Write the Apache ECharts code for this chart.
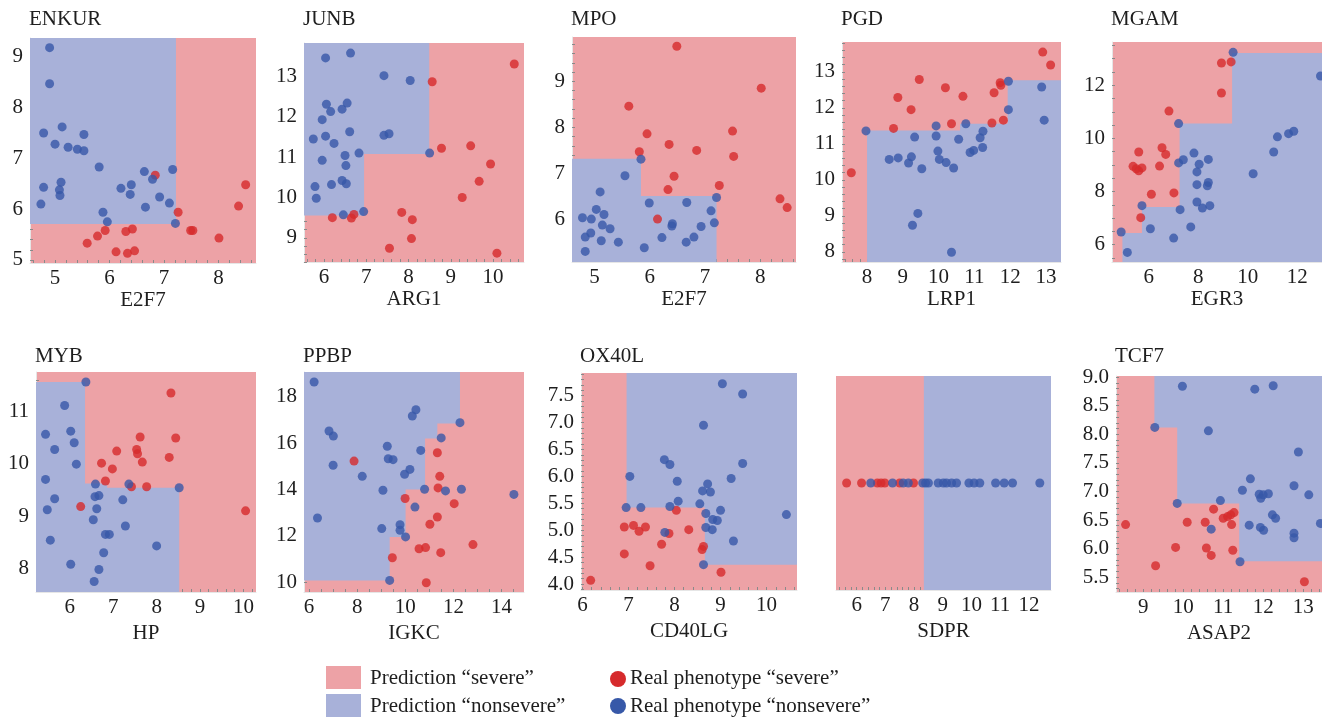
<!DOCTYPE html>
<html><head><meta charset="utf-8">
<script src="https://cdn.jsdelivr.net/npm/echarts@6/dist/echarts.min.js"></script>
<style>html,body{margin:0;padding:0;background:#fff}#c{width:1322px;height:717px}</style>
</head><body><div id="c"></div>
<script>
// ---------- DATA ----------
// ENKUR vs E2F7
const enkurXTicks = [5, 6, 7, 8];
const enkurYTicks = [5, 6, 7, 8, 9];
const enkurSevere = [[6.84,6.67],[7.26,5.94],[5.59,5.33],[5.78,5.47],[5.92,5.58],[6.12,5.16],[6.30,5.56],[6.42,5.61],[6.33,5.13],[6.46,5.18],[7.49,5.58],[7.53,5.58],[8.01,5.43],[8.37,6.06],[8.50,6.48]];
const enkurNonsevere = [[4.90,9.18],[4.90,8.47],[4.79,7.50],[5.13,7.62],[5.00,7.28],[5.24,7.22],[5.41,7.18],[5.53,7.15],[5.53,7.47],[5.81,6.83],[4.79,6.43],[5.11,6.53],[5.08,6.38],[5.09,6.27],[4.74,6.10],[5.88,5.94],[5.96,5.75],[6.21,6.41],[6.40,6.48],[6.38,6.29],[6.64,6.74],[6.79,6.59],[6.66,6.04],[6.92,6.24],[7.10,6.12],[7.16,6.78],[7.21,5.72]];
const enkurNonsevereRegion = [['lo',5.71],[7.22,5.71],[7.22,'hi'],['lo','hi']];

// JUNB vs ARG1
const junbXTicks = [6, 7, 8, 9, 10];
const junbYTicks = [9, 10, 11, 12, 13];
const junbSevere = [[6.20,9.50],[6.65,9.49],[6.71,9.58],[8.56,12.87],[8.78,11.22],[9.47,11.28],[9.94,10.83],[9.67,10.40],[9.27,10.00],[7.84,9.63],[8.09,9.45],[8.07,8.98],[7.55,8.74],[10.09,8.62],[10.50,13.31]];
const junbNonsevere = [[6.04,13.46],[6.63,13.58],[7.42,13.02],[8.04,12.90],[6.06,12.31],[6.16,12.13],[6.43,12.19],[6.55,12.34],[5.96,11.93],[5.75,11.45],[6.04,11.52],[6.24,11.34],[6.61,11.63],[7.42,11.54],[7.54,11.58],[6.83,11.10],[5.96,10.92],[6.50,11.04],[6.52,10.79],[6.43,10.42],[6.53,10.34],[6.18,10.32],[5.79,10.27],[5.82,9.98],[6.46,9.57],[6.94,9.65],[8.50,11.10]];
const junbNonsevereRegion = [['lo',9.55],[6.95,9.55],[6.95,11.08],[8.49,11.08],[8.49,'hi'],['lo','hi']];

// MPO vs E2F7
const mpoXTicks = [5, 6, 7, 8];
const mpoYTicks = [6, 7, 8, 9];
const mpoSevere = [[6.49,9.76],[5.62,8.46],[5.95,7.86],[5.81,7.47],[6.35,7.63],[6.85,7.50],[7.50,7.92],[7.52,7.37],[8.02,8.85],[6.44,6.94],[6.33,6.65],[7.26,6.74],[6.14,6.01],[8.36,6.45],[8.49,6.26]];
const mpoNonsevere = [[5.84,7.31],[5.55,6.95],[5.10,6.60],[5.03,6.22],[5.17,6.11],[4.78,6.04],[4.94,6.01],[5.14,5.88],[5.28,5.80],[4.93,5.71],[4.83,5.62],[5.12,5.54],[5.43,5.51],[4.83,5.31],[5.90,5.39],[5.99,6.36],[6.22,5.61],[6.40,5.86],[6.41,5.91],[6.67,6.37],[6.66,5.51],[6.80,5.62],[6.93,5.85],[7.11,6.19],[7.17,5.93],[7.21,6.48]];
const mpoNonsevereRegion = [['lo','lo'],['lo',7.32],[5.84,7.32],[5.84,6.51],[7.21,6.51],[7.21,'lo']];

// PGD vs LRP1
const pgdXTicks = [8, 9, 10, 11, 12, 13];
const pgdYTicks = [8, 9, 10, 11, 12, 13];
const pgdSevere = [[7.56,10.20],[8.74,11.43],[8.86,12.29],[9.23,11.95],[9.46,12.79],[10.19,12.56],[10.36,11.56],[10.68,12.32],[11.49,11.58],[11.55,12.42],[11.72,12.70],[11.74,12.63],[11.81,11.66],[12.91,13.55],[13.13,13.19]];
const pgdNonsevere = [[7.97,11.36],[8.62,10.57],[8.87,10.61],[9.24,10.64],[9.16,10.47],[9.33,11.19],[9.53,10.31],[9.27,8.74],[9.42,9.07],[9.93,11.50],[9.93,11.22],[9.98,10.80],[10.02,10.57],[10.21,10.48],[10.42,10.33],[10.36,7.99],[10.56,11.13],[10.76,11.56],[10.88,10.76],[10.98,10.82],[11.16,11.17],[11.24,11.35],[11.23,10.90],[11.95,12.74],[11.95,11.95],[12.88,12.58],[12.95,11.66]];
const pgdNonsevereRegion = [[8.0,'lo'],[8.0,11.37],[10.6,11.37],[10.6,11.56],[11.93,11.56],[11.93,12.77],['hi',12.77],['hi','lo']];

// MGAM vs EGR3
const mgamXTicks = [6, 8, 10, 12];
const mgamYTicks = [6, 8, 10, 12];
const mgamSevere = [[6.82,11.03],[8.94,12.84],[9.33,12.88],[8.94,11.71],[5.60,9.49],[5.37,8.95],[5.50,8.86],[5.60,8.78],[5.73,8.89],[6.54,9.65],[6.69,9.40],[6.44,8.96],[6.11,7.90],[7.02,7.95],[5.68,7.02]];
const mgamNonsevere = [[7.21,10.56],[9.41,13.24],[12.94,12.35],[4.89,6.48],[5.14,5.71],[5.73,7.47],[6.07,6.60],[7.01,6.25],[7.27,7.32],[7.70,6.67],[7.21,9.08],[7.40,9.20],[7.83,9.45],[8.04,9.03],[7.95,8.74],[7.95,8.26],[7.95,7.61],[8.17,7.38],[8.47,7.47],[8.41,9.21],[8.41,8.34],[8.37,8.22],[10.22,8.67],[11.05,9.49],[11.20,10.06],[11.65,10.18],[11.86,10.27]];
const mgamNonsevereRegion = [[4.94,'lo'],[4.94,6.44],[5.73,6.44],[5.73,7.42],[7.25,7.42],[7.25,10.56],[9.37,10.56],[9.37,13.22],['hi',13.22],['hi','lo']];

// MYB vs HP
const mybXTicks = [6, 7, 8, 9, 10];
const mybYTicks = [8, 9, 10, 11];
const mybSevere = [[6.25,9.18],[6.73,10.01],[6.98,9.90],[6.82,9.67],[7.08,10.24],[7.42,9.56],[7.54,10.27],[7.56,10.19],[7.67,10.03],[7.62,10.51],[7.77,9.56],[8.29,10.12],[8.44,10.49],[8.33,11.35],[10.05,9.10]];
const mybNonsevere = [[6.37,11.56],[5.88,11.11],[5.44,10.56],[6.02,10.62],[6.10,10.40],[5.65,10.27],[6.15,9.99],[5.44,9.70],[5.65,9.33],[5.48,9.12],[5.55,8.54],[6.02,8.08],[6.59,9.61],[6.58,9.37],[6.67,9.39],[6.62,9.14],[6.54,8.93],[6.82,8.65],[6.91,8.65],[6.78,8.30],[6.67,7.98],[6.56,7.75],[7.22,9.31],[7.28,8.81],[7.36,9.61],[8.00,8.43],[8.52,9.54]];
const mybNonsevereRegion = [['lo','lo'],['lo',11.56],[6.35,11.56],[6.35,9.62],[6.86,9.62],[6.86,9.54],[8.52,9.54],[8.52,'lo']];

// PPBP vs IGKC
const ppbpXTicks = [6, 8, 10, 12, 14];
const ppbpYTicks = [10, 12, 14, 16, 18];
const ppbpSevere = [[7.87,15.23],[11.33,15.59],[11.43,14.57],[11.36,14.07],[9.99,13.61],[12.03,13.39],[11.33,12.81],[11.02,12.50],[12.81,11.62],[11.47,11.27],[10.57,11.44],[10.84,11.49],[9.46,11.05],[10.87,9.97]];
const ppbpNonsevere = [[6.21,18.65],[6.83,16.53],[7.01,16.31],[7.00,15.05],[6.35,12.77],[8.21,14.57],[9.25,15.87],[9.29,15.33],[9.49,15.29],[9.07,13.97],[9.02,12.31],[9.35,10.07],[10.29,17.18],[10.44,17.45],[9.97,14.66],[10.19,14.87],[10.64,15.69],[10.40,13.24],[10.80,14.01],[9.78,12.48],[9.78,12.24],[10.01,11.95],[11.49,16.23],[11.67,13.94],[12.33,14.01],[12.27,16.89],[14.51,13.79]];
const ppbpNonsevereRegion = [['lo',10.07],[9.35,10.07],[9.35,11.95],[10.01,11.95],[10.01,14.0],[10.82,14.0],[10.82,16.2],[11.33,16.2],[11.33,16.85],[12.27,16.85],[12.27,'hi'],['lo','hi']];

// OX40L vs CD40LG
const ox40lXTicks = [6, 7, 8, 9, 10];
const ox40lYTicks = [4.0, 4.5, 5.0, 5.5, 6.0, 6.5, 7.0, 7.5];
const ox40lSevere = [[6.18,4.07],[6.91,5.06],[7.11,5.09],[7.23,4.98],[7.37,5.06],[6.91,4.56],[7.47,4.34],[7.72,4.74],[7.88,4.94],[8.04,5.37],[8.31,5.01],[8.63,4.70],[8.60,4.64],[9.01,4.22]];
const ox40lNonsevere = [[9.04,7.72],[9.48,7.53],[8.63,6.95],[7.78,6.31],[7.90,6.22],[9.48,6.24],[7.03,6.00],[8.06,5.91],[8.72,5.86],[9.23,5.96],[8.61,5.73],[8.78,5.71],[6.95,5.42],[7.27,5.42],[7.90,5.44],[8.08,5.54],[8.55,5.49],[8.68,5.31],[9.00,5.37],[8.83,5.20],[8.93,5.18],[8.68,5.05],[8.82,5.01],[7.79,4.96],[9.28,4.80],[8.63,4.36],[10.43,5.29]];
const ox40lNonsevereRegion = [[6.96,'hi'],[6.96,5.42],[8.66,5.42],[8.66,4.36],['hi',4.36],['hi','hi']];

// SDPR (one-dimensional)
const sdprXTicks = [6, 7, 8, 9, 10, 11, 12];
const sdprSevere = [5.65, 6.17, 6.72, 6.85, 6.98, 7.50, 7.98];
const sdprNonsevere = [6.49, 7.25, 7.62, 7.80, 8.30, 8.40, 8.50, 8.84, 9.02, 9.13, 9.31, 9.48, 9.91, 10.09, 10.29, 10.84, 11.14, 11.43, 12.38];
const sdprNonsevereRegion = [[8.34,'lo'],[8.34,'hi'],['hi','hi'],['hi','lo']];

// TCF7 vs ASAP2
const tcf7XTicks = [9, 10, 11, 12, 13];
const tcf7YTicks = [5.5, 6.0, 6.5, 7.0, 7.5, 8.0, 8.5, 9.0];
const tcf7Severe = [[8.56,6.42],[9.31,5.70],[9.81,6.02],[10.10,6.46],[10.55,6.46],[10.76,6.69],[10.58,6.01],[10.70,5.88],[11.00,6.53],[11.11,6.56],[11.19,6.59],[11.27,6.63],[11.21,6.42],[11.24,5.97],[13.03,5.42]];
const tcf7Nonsevere = [[9.98,8.84],[11.79,8.79],[12.25,8.85],[9.29,8.12],[10.63,8.06],[12.88,7.69],[11.68,7.22],[11.48,7.02],[12.77,7.10],[13.14,6.94],[9.85,6.79],[10.93,6.84],[11.90,6.95],[12.00,6.94],[12.13,6.96],[11.94,6.88],[12.23,6.59],[12.31,6.53],[10.70,6.34],[11.65,6.41],[11.93,6.37],[12.01,6.32],[12.77,6.27],[12.77,6.19],[13.43,6.44],[11.42,5.77]];
const tcf7NonsevereRegion = [[9.28,'hi'],[9.28,8.12],[9.85,8.12],[9.85,6.79],[11.40,6.79],[11.40,5.78],['hi',5.78],['hi','hi']];

// ---------- LAYOUT / STYLE ----------
const FONT = 'Liberation Serif';
const FS = 21;
const TXT = '#1e1e1e';
const RED_BG = '#eda2a6';
const BLUE_BG = '#a8b1d9';
const RED_PT = '#d62a2c';
const BLUE_PT = '#3758a8';

const panels = [
  {title:'ENKUR', xName:'E2F7', sev:enkurSevere, non:enkurNonsevere, reg:enkurNonsevereRegion, xt:enkurXTicks, yt:enkurYTicks, xr:[4.54,8.69], yr:[4.94,9.37], box:[30,38,226,225], minor:[0.2,0.2], dec:0, row:0},
  {title:'JUNB', xName:'ARG1', sev:junbSevere, non:junbNonsevere, reg:junbNonsevereRegion, xt:junbXTicks, yt:junbYTicks, xr:[5.53,10.73], yr:[8.40,13.83], box:[304,43,220,219], minor:[0.2,0.2], dec:0, row:0},
  {title:'MPO', xName:'E2F7', sev:mpoSevere, non:mpoNonsevere, reg:mpoNonsevereRegion, xt:mpoXTicks, yt:mpoYTicks, xr:[4.59,8.65], yr:[5.08,9.96], box:[572,37,224,225], minor:[0.2,0.2], dec:0, row:0},
  {title:'PGD', xName:'LRP1', sev:pgdSevere, non:pgdNonsevere, reg:pgdNonsevereRegion, xt:pgdXTicks, yt:pgdYTicks, xr:[7.30,13.42], yr:[7.72,13.83], box:[842,42,219,220], minor:[0.2,0.2], dec:0, row:0},
  {title:'MGAM', xName:'EGR3', sev:mgamSevere, non:mgamNonsevere, reg:mgamNonsevereRegion, xt:mgamXTicks, yt:mgamYTicks, xr:[4.52,13.0], yr:[5.35,13.63], box:[1112,42,210,220], minor:[0.5,0.5], dec:0, row:0},
  {title:'MYB', xName:'HP', sev:mybSevere, non:mybNonsevere, reg:mybNonsevereRegion, xt:mybXTicks, yt:mybYTicks, xr:[5.22,10.29], yr:[7.55,11.75], box:[36,372,220,220], minor:[0.2,0.2], dec:0, row:1},
  {title:'PPBP', xName:'IGKC', sev:ppbpSevere, non:ppbpNonsevere, reg:ppbpNonsevereRegion, xt:ppbpXTicks, yt:ppbpYTicks, xr:[5.79,14.93], yr:[9.57,19.08], box:[304,372,220,220], minor:[0.5,0.5], dec:0, row:1},
  {title:'OX40L', xName:'CD40LG', sev:ox40lSevere, non:ox40lNonsevere, reg:ox40lNonsevereRegion, xt:ox40lXTicks, yt:ox40lYTicks, xr:[5.97,10.66], yr:[3.89,7.92], box:[581,373,216,217], minor:[0.2,0.1], dec:1, row:1},
  {title:'', xName:'SDPR', sev:sdprSevere.map(v=>[v,0]), non:sdprNonsevere.map(v=>[v,0]), reg:sdprNonsevereRegion, xt:sdprXTicks, yt:null, xr:[5.28,12.77], yr:[-1,1], box:[836,376,215,214], minor:[0.2,0.2], dec:0, row:1},
  {title:'TCF7', xName:'ASAP2', sev:tcf7Severe, non:tcf7Nonsevere, reg:tcf7NonsevereRegion, xt:tcf7XTicks, yt:tcf7YTicks, xr:[8.32,13.47], yr:[5.24,9.02], box:[1116,376,206,216], minor:[0.2,0.1], dec:1, row:1}
];

function minorTicks(range, step){
  const out = [];
  const start = Math.ceil(range[0]/step - 1e-9);
  for (let k = start; k*step <= range[1] + 1e-9; k++) out.push(Math.round(k*step*1000)/1000);
  return out;
}

const grids = [], xAxes = [], yAxes = [], series = [], titles = [];
panels.forEach((p, i) => {
  const [l, t, w, h] = p.box;
  grids.push({left:l, top:t, width:w, height:h, show:true, backgroundColor:RED_BG, borderWidth:0, containLabel:false});
  xAxes.push({
    gridIndex:i, type:'value', min:p.xr[0], max:p.xr[1],
    name:p.xName, nameLocation:'middle', nameGap: p.row ? 31 : 27,
    nameTextStyle:{fontFamily:FONT, fontSize:FS, color:TXT},
    axisLine:{show:true, onZero:false, lineStyle:{color:'#e6e6e6', width:1}},
    axisTick:{show:true, inside:true, length:3, customValues:minorTicks(p.xr, p.minor[0]), lineStyle:{color:'#8a8a8a', width:1}},
    axisLabel:{show:true, customValues:p.xt, margin:5, fontFamily:FONT, fontSize:FS, color:TXT, formatter:v => Number(v).toFixed(p.dec === 1 ? 0 : 0)},
    splitLine:{show:false}
  });
  if (p.yt) {
    yAxes.push({
      gridIndex:i, type:'value', min:p.yr[0], max:p.yr[1],
      axisLine:{show:true, onZero:false, lineStyle:{color:'#e6e6e6', width:1}},
      axisTick:{show:true, inside:true, length:3, customValues:minorTicks(p.yr, p.minor[1]), lineStyle:{color:'#8a8a8a', width:1}},
      axisLabel:{show:true, customValues:p.yt, margin:7, fontFamily:FONT, fontSize:FS, color:TXT, formatter:v => Number(v).toFixed(p.dec)},
      splitLine:{show:false}
    });
  } else {
    yAxes.push({gridIndex:i, type:'value', min:p.yr[0], max:p.yr[1], show:false, splitLine:{show:false}});
  }
  if (p.title) titles.push({text:p.title, left:l - 1, top:p.row ? 346 : 9, padding:0,
    textStyle:{fontFamily:FONT, fontSize:FS, fontWeight:'normal', color:TXT}});
  const region = p.reg;
  series.push({
    type:'custom', xAxisIndex:i, yAxisIndex:i, clip:true, silent:true, z:1, data:[0],
    renderItem:(params, api) => {
      const pts = region.map(([x, y]) => api.coord([
        x === 'lo' ? p.xr[0] : x === 'hi' ? p.xr[1] : x,
        y === 'lo' ? p.yr[0] : y === 'hi' ? p.yr[1] : y]));
      return {type:'polygon', shape:{points:pts}, style:{fill:BLUE_BG}};
    }
  });
  series.push({type:'scatter', xAxisIndex:i, yAxisIndex:i, data:p.sev, symbolSize:9, itemStyle:{color:RED_PT}, z:3, silent:true});
  series.push({type:'scatter', xAxisIndex:i, yAxisIndex:i, data:p.non, symbolSize:9, itemStyle:{color:BLUE_PT}, z:4, silent:true});
});

const legendText = {fontFamily:FONT, fontSize:FS, fill:TXT, verticalAlign:'middle', align:'left'};
const graphic = [
  {type:'rect', shape:{x:326, y:666, width:35, height:23}, style:{fill:RED_BG}},
  {type:'rect', shape:{x:326, y:694, width:35, height:23}, style:{fill:BLUE_BG}},
  {type:'text', x:370, y:678, style:Object.assign({text:'Prediction \u201csevere\u201d'}, legendText)},
  {type:'text', x:370, y:706, style:Object.assign({text:'Prediction \u201cnonsevere\u201d'}, legendText)},
  {type:'circle', shape:{cx:618, cy:679, r:8}, style:{fill:RED_PT}},
  {type:'circle', shape:{cx:618, cy:706, r:8}, style:{fill:BLUE_PT}},
  {type:'text', x:630, y:678, style:Object.assign({text:'Real phenotype \u201csevere\u201d'}, legendText)},
  {type:'text', x:630, y:706, style:Object.assign({text:'Real phenotype \u201cnonsevere\u201d'}, legendText)}
];

const chart = echarts.init(document.getElementById('c'), null, {renderer:'canvas'});
chart.setOption({
  animation:false,
  backgroundColor:'#ffffff',
  title:titles,
  grid:grids, xAxis:xAxes, yAxis:yAxes, series:series, graphic:graphic
});
</script></body></html>
